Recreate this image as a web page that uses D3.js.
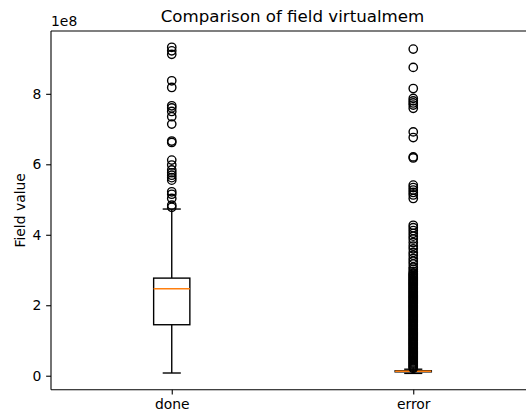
<!DOCTYPE html>
<html>
<head>
<meta charset="utf-8">
<script src="https://cdn.jsdelivr.net/npm/d3@7/dist/d3.min.js"></script>
<style>
  html, body { margin: 0; padding: 0; background: #fff; overflow: hidden; }
  svg { display: block; font-family: "DejaVu Sans", sans-serif; overflow: hidden; }
</style>
</head>
<body>
<svg id="chart"></svg>
<script>
// values are in units of 1e8
const categories = ['done', 'error']

// box stats per category: [lower whisker, q1, median, q3, upper whisker]
const boxStats = [
  [0.077, 1.447, 2.47, 2.77, 4.73],
  [0.066, 0.11, 0.125, 0.14, 0.185]
]

const doneOutliers = [
  9.32, 9.22, 9.12, 8.37, 8.18, 7.66, 7.60, 7.50, 7.35, 7.14,
  6.66, 6.62, 6.12, 5.98, 5.84, 5.76, 5.69, 5.62, 5.55, 5.22,
  5.15, 5.03, 4.84, 4.78
]

const errorOutliers = [
  9.27, 8.75, 8.15, 7.87, 7.80, 7.74, 7.68, 7.59, 6.92, 6.76,
  6.21, 6.18, 5.41, 5.34, 5.27, 5.20, 5.13, 5.03, 4.27, 4.20,
  4.12, 4.04, 3.96, 3.88, 3.78, 3.68, 3.60, 3.50, 3.42, 3.33,
  3.25, 3.17, 3.08, 3.02, 2.96, 2.91,
  2.88, 2.85, 2.82, 2.79, 2.76, 2.73, 2.70, 2.67, 2.64, 2.61,
  2.58, 2.55, 2.52, 2.49, 2.46, 2.43, 2.40, 2.37, 2.34, 2.31,
  2.28, 2.25, 2.22, 2.19, 2.16, 2.13, 2.10, 2.07, 2.04, 2.01,
  1.98, 1.95, 1.92, 1.89, 1.86, 1.83, 1.80, 1.77, 1.74, 1.71,
  1.68, 1.65, 1.62, 1.59, 1.56, 1.53, 1.50, 1.47, 1.44, 1.41,
  1.38, 1.35, 1.32, 1.29, 1.26, 1.23, 1.20, 1.17, 1.14, 1.11,
  1.08, 1.05, 1.02, 0.99, 0.96, 0.93, 0.90, 0.87, 0.84, 0.81,
  0.78, 0.75, 0.72, 0.69, 0.66, 0.63, 0.60, 0.57, 0.54, 0.51,
  0.48, 0.45, 0.42, 0.39, 0.36, 0.33, 0.30, 0.27, 0.24, 0.21
]

const outliers = [doneOutliers, errorOutliers]
const yTicks = [0, 2, 4, 6, 8]

const titleText = 'Comparison of field virtualmem'
const yLabel = 'Field value'
const offsetText = '1e8'

/* Size and margins (the axes run past the right edge of the picture) */
const width = 526
const height = 416
const margin = { top: 31, right: -8, bottom: 26.3, left: 51 }
const innerW = width - margin.left - margin.right
const innerH = height - margin.top - margin.bottom
const visibleW = width - margin.left

const svg = d3.select('#chart')
  .attr('width', width)
  .attr('height', height)

const g = svg.append('g')
  .attr('transform', `translate(${margin.left},${margin.top})`)

/* Scales: positions 1..n with 0.5 padding, y with 5% margins */
const x = d3.scaleLinear()
  .domain([0.5, categories.length + 0.5])
  .range([0, innerW])

const allValues = boxStats.flat().concat(outliers.flat())
const [lo, hi] = d3.extent(allValues)
const pad = (hi - lo) * 0.05
const y = d3.scaleLinear()
  .domain([lo - pad, hi + pad])
  .range([innerH, 0])

const lw = 1.39
const boxW = x(1.15) - x(1)
const capW = x(1.075) - x(1)

/* Boxes */
const boxes = g.selectAll('g.box')
  .data(categories)
  .enter().append('g')
  .attr('class', 'box')

boxes.each(function (cat, i) {
  const sel = d3.select(this)
  const [wLo, q1, med, q3, wHi] = boxStats[i]
  const cx = x(i + 1)

  sel.append('rect')
    .attr('x', cx - boxW / 2)
    .attr('y', y(q3))
    .attr('width', boxW)
    .attr('height', y(q1) - y(q3))
    .attr('fill', 'none')
    .attr('stroke', '#000')
    .attr('stroke-width', lw)

  // whiskers
  sel.append('line')
    .attr('x1', cx).attr('x2', cx)
    .attr('y1', y(q1)).attr('y2', y(wLo))
    .attr('stroke', '#000').attr('stroke-width', lw)
  sel.append('line')
    .attr('x1', cx).attr('x2', cx)
    .attr('y1', y(q3)).attr('y2', y(wHi))
    .attr('stroke', '#000').attr('stroke-width', lw)

  // caps
  ;[wLo, wHi].forEach(v => {
    sel.append('line')
      .attr('x1', cx - capW / 2).attr('x2', cx + capW / 2)
      .attr('y1', y(v)).attr('y2', y(v))
      .attr('stroke', '#000').attr('stroke-width', lw)
  })

  // median
  sel.append('line')
    .attr('x1', cx - boxW / 2).attr('x2', cx + boxW / 2)
    .attr('y1', y(med)).attr('y2', y(med))
    .attr('stroke', '#ff7f0e').attr('stroke-width', lw)

  // fliers
  sel.selectAll('circle')
    .data(outliers[i])
    .enter().append('circle')
    .attr('cx', cx)
    .attr('cy', d => y(d))
    .attr('r', 4.17)
    .attr('fill', 'none')
    .attr('stroke', '#000')
    .attr('stroke-width', lw)
})

/* Axes */
const yAxis = g.append('g')
  .call(d3.axisLeft(y).tickValues(yTicks).tickFormat(d => d).tickSizeOuter(0).tickSize(4.86).tickPadding(4.86))
yAxis.select('.domain').remove()

const xAxis = g.append('g')
  .attr('transform', `translate(0,${innerH})`)
  .call(d3.axisBottom(x).tickValues(categories.map((c, i) => i + 1)).tickFormat((d, i) => categories[i]).tickSizeOuter(0).tickSize(4.86).tickPadding(4.86))
xAxis.select('.domain').remove()

g.selectAll('.tick text')
  .attr('font-size', 13.9)
  .attr('font-family', '"DejaVu Sans", sans-serif')
  .attr('fill', '#000')
g.selectAll('.tick line')
  .attr('stroke', '#000')
  .attr('stroke-width', 1.1)

/* Spines: left, bottom, top (cut at the picture edge) */
const spines = [
  [0, 0, 0, innerH],
  [0, innerH, visibleW, innerH],
  [0, 0, visibleW, 0]
]
g.selectAll('line.spine')
  .data(spines)
  .enter().append('line')
  .attr('class', 'spine')
  .attr('x1', d => d[0]).attr('y1', d => d[1])
  .attr('x2', d => d[2]).attr('y2', d => d[3])
  .attr('stroke', '#000')
  .attr('stroke-width', 1.1)

/* Texts */
svg.append('text')
  .attr('x', margin.left + innerW / 2)
  .attr('y', 22)
  .attr('text-anchor', 'middle')
  .attr('font-size', 16.67)
  .attr('fill', '#000')
  .text(titleText)

svg.append('text')
  .attr('x', margin.left)
  .attr('y', 25.5)
  .attr('font-size', 13.9)
  .attr('fill', '#000')
  .text(offsetText)

svg.append('text')
  .attr('transform', `translate(25,${margin.top + innerH / 2}) rotate(-90)`)
  .attr('text-anchor', 'middle')
  .attr('font-size', 13.9)
  .attr('fill', '#000')
  .text(yLabel)
</script>
</body>
</html>
